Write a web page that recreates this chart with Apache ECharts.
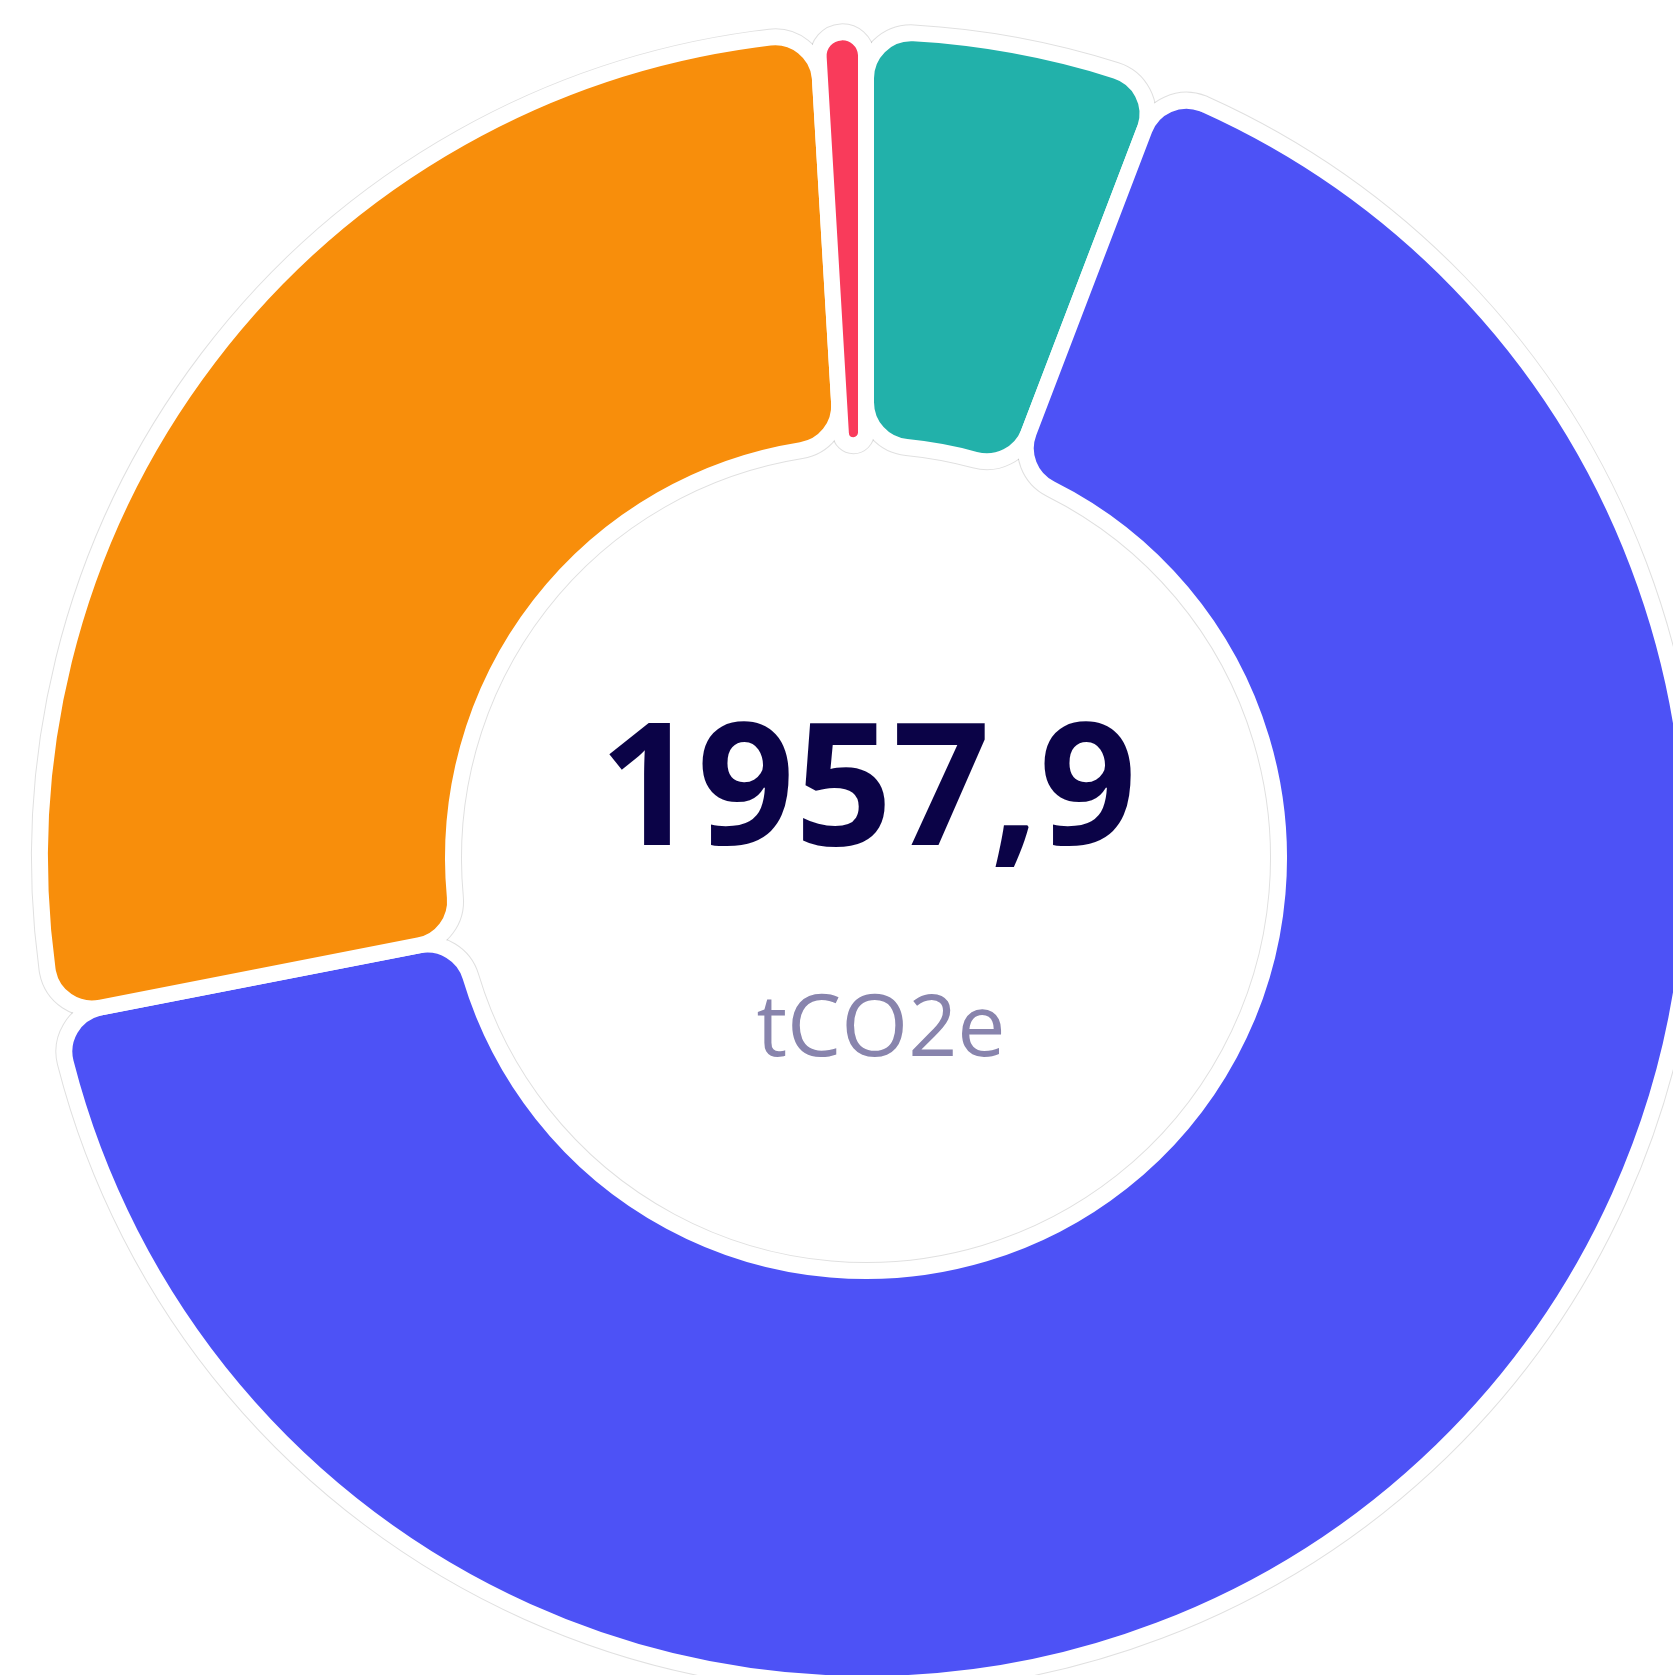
<!DOCTYPE html>
<html>
<head>
<meta charset="utf-8">
<script src="https://cdn.jsdelivr.net/npm/echarts@6/dist/echarts.min.js"></script>
<style>
html,body{margin:0;padding:0;background:#fff;}
#chart{width:1673px;height:1675px;}
</style>
</head>
<body>
<div id="chart"></div>
<script>
const categories = ['Teal', 'Blue', 'Orange', 'Red'];
const values = [113.8, 1294.5, 531.2, 18.4];
const colors = ['#22B1AA', '#4D52F6', '#F88E0B', '#F93B5B'];
const totalLabel = '1957,9';
const unitLabel = 'tCO2e';

const data = categories.map((c, i) => ({ name: c, value: values[i], itemStyle: { color: colors[i] } }));
const center = [866, 858];
const radius = [413, 826];

const chart = echarts.init(document.getElementById('chart'), null, { renderer: 'canvas' });
chart.setOption({
  animation: false,
  backgroundColor: '#ffffff',
  series: [
    {
      type: 'pie', silent: true, center: center, radius: radius, startAngle: 90,
      label: { show: false }, labelLine: { show: false },
      itemStyle: { color: '#ffffff', borderColor: 'rgba(0,0,0,0.12)', borderWidth: 18, borderRadius: 45 },
      data: values.map((v, i) => ({ name: categories[i], value: v }))
    },
    {
      type: 'pie', silent: true, center: center, radius: radius, startAngle: 90,
      label: { show: false }, labelLine: { show: false },
      itemStyle: { borderColor: '#ffffff', borderWidth: 16, borderRadius: 45 },
      data: data
    }
  ],
  graphic: [
    {
      type: 'text', silent: true,
      style: { text: totalLabel, x: 868, y: 796, align: 'center', verticalAlign: 'middle',
        font: 'bold 171px "Open Sans"', fill: '#0B0347' }
    },
    {
      type: 'text', silent: true,
      style: { text: unitLabel, x: 881, y: 1031, align: 'center', verticalAlign: 'middle',
        font: '86px "Open Sans"', fill: '#8884AD' }
    }
  ]
});
</script>
</body>
</html>
